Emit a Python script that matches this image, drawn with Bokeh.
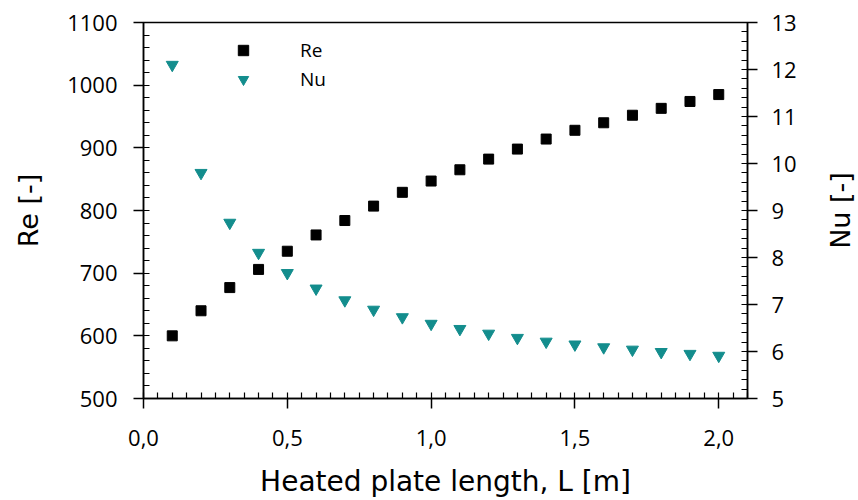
import math
from bokeh.plotting import figure
from bokeh.layouts import row
from bokeh.models import (Range1d, LinearAxis, FixedTicker, Legend, LegendItem,
                          ColumnDataSource, Label)
from bokeh.embed import file_html
from bokeh.resources import INLINE

# ---- data ----
length_m = [0.1, 0.2, 0.3, 0.4, 0.5, 0.6, 0.7, 0.8, 0.9, 1.0,
            1.1, 1.2, 1.3, 1.4, 1.5, 1.6, 1.7, 1.8, 1.9, 2.0]
re_values = [600, 640, 677, 706, 735, 761, 784, 807, 829, 847,
             865, 882, 898, 914, 928, 940, 952, 963, 974, 985]
nu_values = [12.10, 9.80, 8.74, 8.10, 7.67, 7.34, 7.09, 6.89, 6.73, 6.59,
             6.48, 6.38, 6.29, 6.21, 6.15, 6.09, 6.04, 5.99, 5.95, 5.91]

x_ticks = [0.0, 0.5, 1.0, 1.5, 2.0]
x_tick_labels = ["0,0", "0,5", "1,0", "1,5", "2,0"]
x_minor = [round(i * 0.05, 2) for i in range(0, 43)]
re_ticks = [500, 600, 700, 800, 900, 1000, 1100]
re_minor = list(range(500, 1101, 20))
nu_ticks = [5, 6, 7, 8, 9, 10, 11, 12, 13]
nu_minor = [round(5 + i * 0.2, 1) for i in range(0, 41)]

TEAL = "#138d8d"
TICK_FONT = "Open Sans"
TITLE_FONT = "DejaVu Sans"

src = ColumnDataSource(dict(x=length_m, re=re_values, nu=nu_values))

H = 500
W_MAIN, W_SIDE = 820, 38
FL, FT, FR, FB = 143, 22, 747, 398   # frame edges in page pixels
p = figure(width=W_MAIN, height=H, output_backend="svg", toolbar_location=None,
           x_range=Range1d(0, 2.1), y_range=Range1d(500, 1100),
           min_border_left=FL, min_border_top=FT, min_border_right=W_MAIN - FR,
           min_border_bottom=H - FB, x_axis_location=None, y_axis_location=None)
p.background_fill_color = "white"
p.border_fill_color = "white"
p.xgrid.visible = False
p.ygrid.visible = False
p.outline_line_color = "black"
p.outline_line_width = 1.5

p.extra_y_ranges = {"nu": Range1d(5, 13)}


def style_axis(ax, ticks, minor, label_font_px, standoff):
    ax.ticker = FixedTicker(ticks=ticks, minor_ticks=minor)
    ax.axis_line_color = "black"
    ax.axis_line_width = 1.5
    ax.major_tick_line_color = "black"
    ax.major_tick_line_width = 1.5
    ax.minor_tick_line_color = "black"
    ax.minor_tick_line_width = 1.2
    ax.major_tick_out = 10
    ax.major_tick_in = 0
    ax.minor_tick_out = 0
    ax.minor_tick_in = 6
    ax.major_label_text_font = TICK_FONT
    ax.major_label_text_font_size = f"{label_font_px}px"
    ax.major_label_text_color = "black"
    ax.major_label_standoff = standoff
    ax.axis_label_text_font = TITLE_FONT
    ax.axis_label_text_font_size = "27px"
    ax.axis_label_text_font_style = "normal"
    ax.axis_label_text_color = "black"


xaxis = LinearAxis(axis_label="Heated plate length, L [m]")
style_axis(xaxis, x_ticks, x_minor, 22, 21)
xaxis.major_label_overrides = {t: s for t, s in zip(x_ticks, x_tick_labels)}
xaxis.axis_label_text_font_size = "28px"
xaxis.axis_label_standoff = 16
p.add_layout(xaxis, "below")

yaxis = LinearAxis(axis_label="Re [-]")
style_axis(yaxis, re_ticks, re_minor, 22, 16)
yaxis.axis_label_standoff = 20
p.add_layout(yaxis, "left")

y2 = LinearAxis(y_range_name="nu")
style_axis(y2, nu_ticks, nu_minor, 22, 14)
p.add_layout(y2, "right")

r_re = p.scatter("x", "re", source=src, marker="square", size=10,
                 fill_color="black", line_color="black")
r_nu = p.scatter("x", "nu", source=src, marker="inverted_triangle", size=12,
                 fill_color=TEAL, line_color=TEAL, y_range_name="nu")

legend = Legend(items=[LegendItem(label="Re", renderers=[r_re]),
                       LegendItem(label="Nu", renderers=[r_nu])],
                location=(87, 306), orientation="vertical")
legend.background_fill_alpha = 0
legend.border_line_color = None
legend.padding = 0
legend.margin = 0
legend.spacing = 3
legend.glyph_width = 26
legend.glyph_height = 26
legend.label_height = 26
legend.label_standoff = 44
legend.label_text_font = TICK_FONT
legend.label_text_font_size = "19px"
legend.label_text_color = "black"
p.add_layout(legend)

# narrow strip on the right that carries the Nu axis title (reading upwards)
side = figure(width=W_SIDE, height=H, output_backend="svg", toolbar_location=None,
              x_range=Range1d(0, 1), y_range=Range1d(0, 1),
              min_border=0, x_axis_location=None, y_axis_location=None)
side.outline_line_color = None
side.background_fill_color = "white"
side.border_fill_color = "white"
side.xgrid.visible = False
side.ygrid.visible = False
side.add_layout(Label(x=20, y=0.5, x_units="screen", y_units="data",
                      text="Nu [-]", angle=math.pi / 2, text_align="center",
                      text_baseline="alphabetic", text_font=TITLE_FONT,
                      text_font_size="27px", text_color="black"))

layout = row(p, side, spacing=0)
open("out.html", "w").write(file_html(layout, INLINE))
